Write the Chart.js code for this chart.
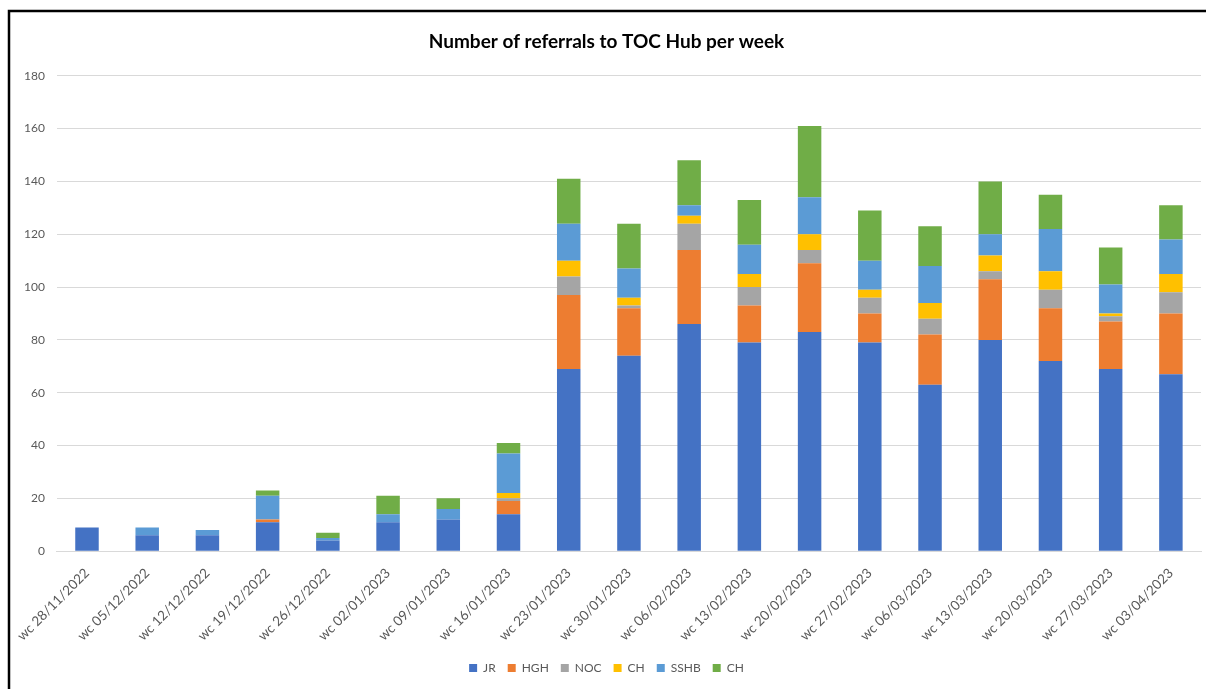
<!DOCTYPE html>
<html>
<head>
<meta charset="utf-8">
<script src="https://cdn.jsdelivr.net/npm/chart.js@4/dist/chart.umd.min.js"></script>
<style>
  html, body { margin: 0; padding: 0; background: #fff; }
  #wrap { position: absolute; left: 0; top: 0; width: 1206px; height: 689px; }
</style>
</head>
<body>
<div id="wrap"><canvas id="referrals"></canvas></div>
<script>
// week commencing labels
const weeks = [
    'wc 28/11/2022', 'wc 05/12/2022', 'wc 12/12/2022', 'wc 19/12/2022', 'wc 26/12/2022',
    'wc 02/01/2023', 'wc 09/01/2023', 'wc 16/01/2023', 'wc 23/01/2023', 'wc 30/01/2023',
    'wc 06/02/2023', 'wc 13/02/2023', 'wc 20/02/2023', 'wc 27/02/2023', 'wc 06/03/2023',
    'wc 13/03/2023', 'wc 20/03/2023', 'wc 27/03/2023', 'wc 03/04/2023'
];

// referrals per source
const jr   = [9, 6, 6, 11, 4, 11, 12, 14, 69, 74, 86, 79, 83, 79, 63, 80, 72, 69, 67];
const hgh  = [0, 0, 0, 1, 0, 0, 0, 5, 28, 18, 28, 14, 26, 11, 19, 23, 20, 18, 23];
const noc  = [0, 0, 0, 0, 0, 0, 0, 1, 7, 1, 10, 7, 5, 6, 6, 3, 7, 2, 8];
const ch1  = [0, 0, 0, 0, 0, 0, 0, 2, 6, 3, 3, 5, 6, 3, 6, 6, 7, 1, 7];
const sshb = [0, 3, 2, 9, 1, 3, 4, 15, 14, 11, 4, 11, 14, 11, 14, 8, 16, 11, 13];
const ch2  = [0, 0, 0, 2, 2, 7, 4, 4, 17, 17, 17, 17, 27, 19, 15, 20, 13, 14, 13];

const yTicks = [0, 20, 40, 60, 80, 100, 120, 140, 160, 180];

const font = 'Lato, "Liberation Sans", sans-serif';

// black frame round the chart (left and top edges only are in view)
const framePlugin = {
    id: 'frame',
    afterDraw(chart) {
        const c = chart.ctx;
        c.save();
        c.strokeStyle = '#000';
        c.lineWidth = 2.5;
        c.beginPath();
        c.moveTo(9, 689);
        c.lineTo(9, 11);
        c.lineTo(1206, 11);
        c.stroke();
        c.restore();
    }
};

function series(label, data, color) {
    return {
        label: label,
        data: data,
        backgroundColor: color,
        borderWidth: 0,
        barPercentage: 0.39,
        categoryPercentage: 1
    };
}

new Chart(document.getElementById('referrals').getContext('2d'), {
    type: 'bar',
    data: {
        labels: weeks,
        datasets: [
            series('JR', jr, '#4472C4'),
            series('HGH', hgh, '#ED7D31'),
            series('NOC', noc, '#A5A5A5'),
            series('CH', ch1, '#FFC000'),
            series('SSHB', sshb, '#5B9BD5'),
            series('CH', ch2, '#70AD47')
        ]
    },
    options: {
        responsive: true,
        maintainAspectRatio: false,
        animation: false,
        layout: { padding: { left: 12, right: 5, top: 16, bottom: 5 } },
        plugins: {
            title: {
                display: true,
                text: 'Number of referrals to TOC Hub per week',
                color: '#000',
                font: { family: font, size: 19, weight: 'bold' },
                padding: { top: 14, bottom: 23 }
            },
            legend: {
                position: 'bottom',
                labels: {
                    boxWidth: 8,
                    boxHeight: 8,
                    padding: 12,
                    color: '#595959',
                    font: { family: font, size: 12 }
                }
            },
            tooltip: { enabled: false }
        },
        scales: {
            x: {
                stacked: true,
                grid: { display: false },
                border: { color: '#D9D9D9' },
                ticks: {
                    minRotation: 45,
                    maxRotation: 45,
                    padding: 6,
                    color: '#595959',
                    font: { family: font, size: 13.5 }
                }
            },
            y: {
                stacked: true,
                min: 0,
                max: 180,
                afterBuildTicks(scale) {
                    scale.ticks = yTicks.map(v => ({ value: v }));
                },
                grid: { color: '#D9D9D9', drawTicks: false },
                border: { display: false },
                ticks: {
                    padding: 12,
                    color: '#595959',
                    font: { family: font, size: 12 }
                }
            }
        }
    },
    plugins: [framePlugin]
});
</script>
</body>
</html>
